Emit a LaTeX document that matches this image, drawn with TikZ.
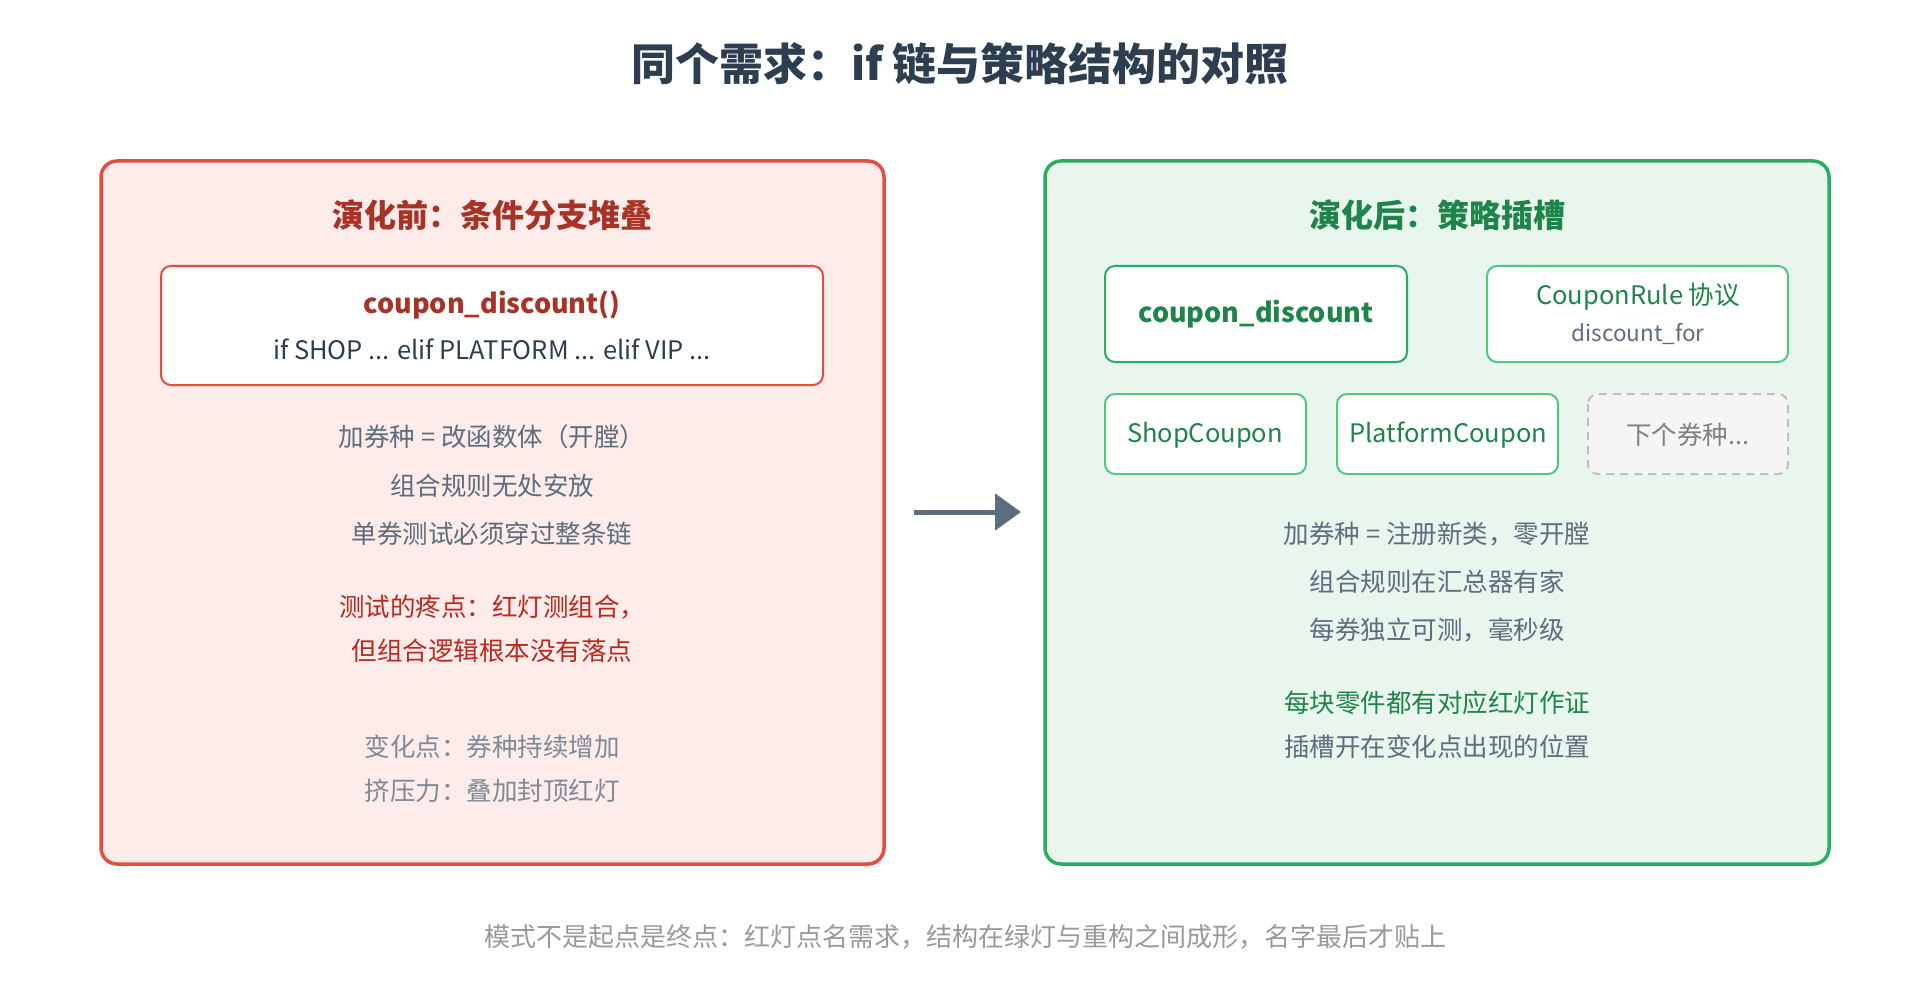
\documentclass[tikz,border=0pt]{standalone}
\usepackage{fontspec}
\setmainfont{Noto Sans CJK SC}
\usetikzlibrary{arrows.meta}
\definecolor{redb}{HTML}{E74C3C}\definecolor{redf}{HTML}{FDECEA}\definecolor{redt}{HTML}{A93226}
\definecolor{grnb}{HTML}{27AE60}\definecolor{grnf}{HTML}{E8F6EE}\definecolor{grnt}{HTML}{1E8449}
\definecolor{grnl}{HTML}{52C77E}\definecolor{txt}{HTML}{5D6D7E}\definecolor{ttl}{HTML}{2C3E50}
\definecolor{arr}{HTML}{5D6D7E}
\newcommand{\fs}[1]{\fontsize{#1pt}{#1pt}\selectfont}
\begin{document}
\begin{tikzpicture}[x=1pt,y=-1pt,
 panel/.style={draw=#1,line width=3.5pt,rounded corners=16pt},
 box/.style={draw=#1,fill=white,line width=2pt,rounded corners=10pt},
 t/.style={font=\fs{25.5},text=txt,anchor=center,inner sep=0pt}]
\useasboundingbox (0,0) rectangle (1920,1000);
\node[font=\fs{44}\bfseries,text=ttl] (title) at (960,64) {同个需求：if 链与策略结构的对照};
\draw[panel=redb,fill=redf] (101,161) rectangle (884,864);
\draw[panel=grnb,fill=grnf] (1045,161) rectangle (1829,864);
\node[font=\fs{32}\bfseries,text=redt] (lh) at (492,215) {演化前：条件分支堆叠};
\draw[box=redb] (161,266) rectangle (823,385);
\node[font=\fs{27}\bfseries,text=redt] (cd) at (492,305) {coupon\_discount()};
\node[t,text=ttl] (ifc) at (492,349) {if SHOP ... elif PLATFORM ... elif VIP ...};
\node[t] (l1) at (492,437) {加券种 = 改函数体（开膛）};
\node[t] (l2) at (492,486) {组合规则无处安放};
\node[t] (l3) at (492,534) {单券测试必须穿过整条链};
\node[t,text=redt!80!red] (l4) at (492,607) {测试的疼点：红灯测组合，};
\node[t,text=redt!80!red] (l5) at (492,651) {但组合逻辑根本没有落点};
\node[t,text=txt!80] (l6) at (492,747) {变化点：券种持续增加};
\node[t,text=txt!80] (l7) at (492,791) {挤压力：叠加封顶红灯};
\coordinate (a1) at (914,512); \coordinate (a2) at (1021,512);
\draw[arr,line width=5pt,-{Triangle[length=26pt,width=36pt]}] (a1) -- (a2);
\node[font=\fs{32}\bfseries,text=grnt] (rh) at (1437,215) {演化后：策略插槽};
\draw[box=grnb] (1105,266) rectangle (1407,362);
\node[font=\fs{27}\bfseries,text=grnt] (cd2) at (1256,314) {coupon\_discount};
\draw[box=grnl] (1487,266) rectangle (1788,362);
\node[t,text=grnt] (cr) at (1638,297) {CouponRule 协议};
\node[t,font=\fs{22.5},text=txt] (df) at (1638,334) {discount\_for};
\draw[box=grnl] (1105,394) rectangle (1306,474);
\node[t,text=grnt] (sc) at (1205,435) {ShopCoupon};
\draw[box=grnl] (1337,394) rectangle (1558,474);
\node[t,text=grnt] (pc) at (1448,435) {PlatformCoupon};
\draw[draw=gray!50,fill=gray!8,line width=2pt,dash pattern=on 8pt off 6pt,rounded corners=10pt] (1588,394) rectangle (1788,474);
\node[t,text=gray] (nx) at (1688,435) {下个券种...};
\node[t] (r1) at (1437,534) {加券种 = 注册新类，零开膛};
\node[t] (r2) at (1437,582) {组合规则在汇总器有家};
\node[t] (r3) at (1437,630) {每券独立可测，毫秒级};
\node[t,text=grnt] (r4) at (1437,703) {每块零件都有对应红灯作证};
\node[t] (r5) at (1437,747) {插槽开在变化点出现的位置};
\node[t,font=\fs{26},text=gray!80] (ft) at (965,937) {模式不是起点是终点：红灯点名需求，结构在绿灯与重构之间成形，名字最后才贴上};
\end{tikzpicture}
\end{document}
